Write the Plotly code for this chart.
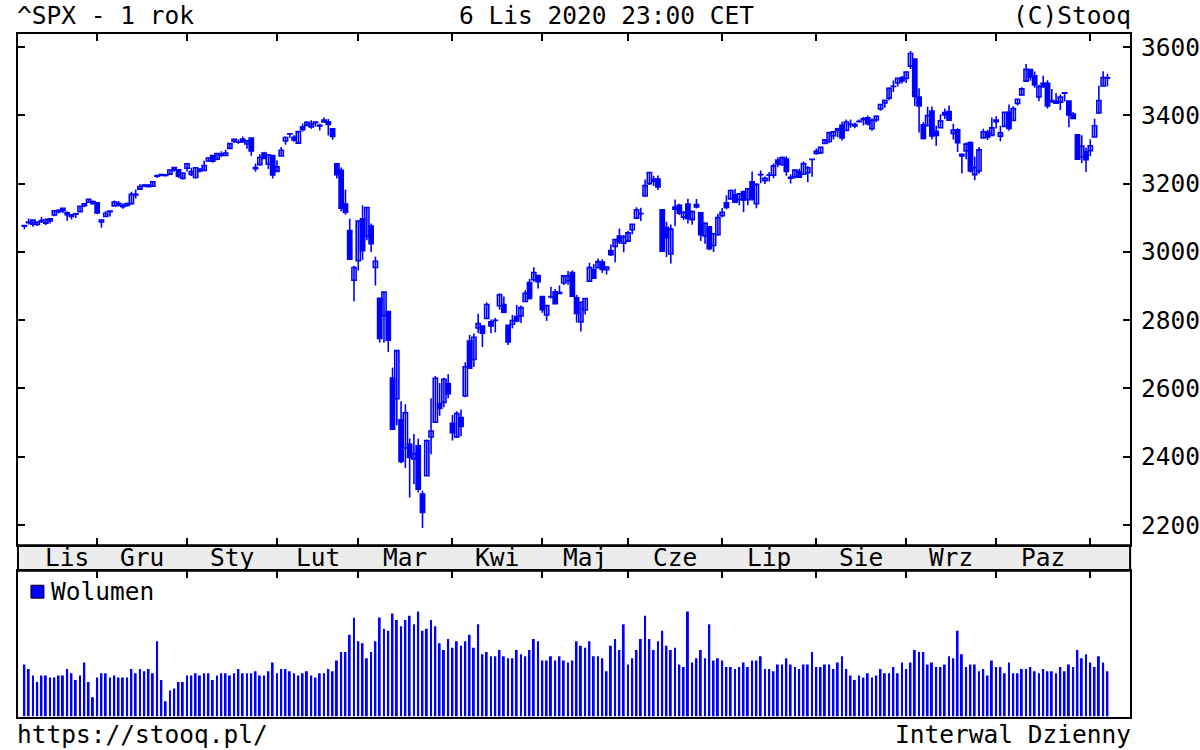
import pandas as pd
import plotly.graph_objects as go

# ---------------- data ----------------
holidays = ["2019-11-28", "2019-12-25", "2020-01-01", "2020-01-20", "2020-02-17",
            "2020-04-10", "2020-05-25", "2020-07-03", "2020-09-07"]
dates = pd.bdate_range("2019-11-06", "2020-11-06", freq="C", holidays=holidays)

open_ = [
    # Nov 2019
    3075.1, 3087.0, 3081.3, 3080.3, 3089.3, 3084.2, 3090.8, 3107.9, 3117.9, 3127.5, 3114.7, 3108.5, 3111.4, 3117.4, 3134.9, 3145.5, 3147.2,
    # Dec
    3143.9, 3087.4, 3103.5, 3119.2, 3134.6, 3141.9, 3135.4, 3135.8, 3141.2, 3166.7, 3183.6, 3195.4, 3195.2, 3192.3, 3223.3, 3226.1, 3225.5, 3227.2, 3247.2, 3240.1, 3215.2,
    # Jan 2020
    3244.7, 3226.4, 3217.6, 3241.9, 3238.6, 3266.0, 3281.8, 3271.1, 3285.4, 3282.3, 3303.0, 3323.7, 3321.0, 3330.0, 3315.8, 3333.1, 3247.2, 3255.4, 3289.5, 3256.5, 3282.3,
    # Feb
    3235.7, 3280.6, 3324.9, 3344.9, 3335.5, 3318.3, 3365.9, 3370.5, 3365.9, 3378.1, 3369.0, 3380.4, 3380.5, 3360.5, 3257.6, 3238.9, 3139.9, 3062.5, 2916.9,
    # Mar
    2974.3, 3096.5, 3045.8, 3075.7, 2954.2, 2863.9, 2813.5, 2825.6, 2630.9, 2570.0, 2508.6, 2425.7, 2436.5, 2393.5, 2431.9, 2290.7, 2344.4, 2457.8, 2501.3, 2555.9, 2559.0, 2614.7,
    # Apr
    2498.1, 2458.5, 2514.9, 2578.3, 2738.7, 2685.0, 2777.0, 2782.5, 2805.1, 2795.6, 2799.3, 2842.4, 2845.6, 2784.8, 2787.9, 2810.4, 2812.6, 2854.7, 2910.0, 2918.5, 2930.9,
    # May
    2869.1, 2815.0, 2868.9, 2883.1, 2878.3, 2908.8, 2915.5, 2939.5, 2865.9, 2794.5, 2830.0, 2913.9, 2948.6, 2953.6, 2970.0, 2948.1, 3004.1, 3015.7, 3046.6, 3025.2,
    # Jun
    3031.4, 3064.8, 3098.9, 3111.6, 3163.8, 3199.9, 3213.3, 3213.4, 3123.5, 3071.0, 2993.8, 3131.0, 3136.1, 3101.6, 3140.3, 3094.4, 3138.7, 3114.4, 3046.6, 3073.2, 3018.6, 3050.2,
    # Jul
    3105.9, 3143.6, 3155.3, 3166.4, 3153.1, 3176.2, 3152.5, 3205.1, 3141.1, 3226.0, 3208.4, 3224.2, 3224.3, 3268.5, 3254.9, 3271.6, 3218.6, 3219.8, 3234.3, 3227.2, 3231.8, 3270.5,
    # Aug
    3288.3, 3289.9, 3317.4, 3323.2, 3340.1, 3356.0, 3370.3, 3355.5, 3373.0, 3368.7, 3380.9, 3387.0, 3392.5, 3360.5, 3386.0, 3418.1, 3436.0, 3450.0, 3485.1, 3494.7, 3509.7,
    # Sep
    3507.4, 3543.8, 3564.7, 3453.6, 3371.9, 3369.8, 3412.6, 3352.7, 3363.6, 3407.7, 3411.2, 3346.9, 3357.4, 3285.6, 3295.8, 3320.1, 3226.1, 3236.7, 3333.9, 3350.9, 3341.2,
    # Oct
    3385.9, 3338.9, 3367.3, 3408.7, 3384.6, 3434.3, 3459.7, 3500.0, 3534.0, 3515.5, 3453.7, 3493.5, 3493.7, 3439.4, 3439.9, 3438.5, 3464.9, 3441.4, 3403.2, 3342.5, 3277.2, 3293.6,
    # Nov 2020
    3296.2, 3336.3, 3406.5, 3485.7, 3508.3,
]
high = [
    3078.3, 3097.8, 3093.1, 3088.3, 3102.6, 3098.1, 3098.2, 3120.5, 3124.2, 3127.6, 3119.0, 3110.1, 3112.9, 3133.8, 3142.7, 3154.3, 3150.3,
    3144.3, 3095.0, 3119.4, 3119.5, 3150.6, 3148.9, 3142.1, 3144.0, 3176.3, 3182.7, 3197.7, 3198.2, 3198.5, 3205.5, 3225.7, 3227.8, 3226.4, 3240.1, 3247.9, 3240.9, 3231.7,
    3258.1, 3246.2, 3246.8, 3244.9, 3267.1, 3275.6, 3283.0, 3288.1, 3294.3, 3298.7, 3317.1, 3329.9, 3329.8, 3337.8, 3326.9, 3333.2, 3258.9, 3285.8, 3293.5, 3285.9, 3282.3,
    3268.4, 3306.9, 3337.6, 3348.0, 3341.4, 3352.3, 3375.6, 3381.5, 3385.1, 3380.7, 3375.0, 3393.5, 3389.2, 3360.8, 3259.8, 3247.0, 3182.5, 3097.1, 2959.7,
    3091.0, 3136.7, 3131.0, 3083.0, 2985.9, 2863.9, 2882.6, 2825.6, 2661.0, 2711.3, 2563.0, 2553.9, 2453.6, 2467.0, 2453.0, 2300.7, 2449.7, 2571.4, 2637.0, 2615.9, 2631.8, 2641.4,
    2522.8, 2533.2, 2538.2, 2676.9, 2756.9, 2760.8, 2818.6, 2782.5, 2851.9, 2801.9, 2806.5, 2879.2, 2869.0, 2785.5, 2815.1, 2844.9, 2842.7, 2887.7, 2921.2, 2954.9, 2930.9,
    2869.1, 2844.2, 2898.2, 2891.1, 2901.9, 2932.2, 2944.3, 2945.8, 2874.1, 2852.8, 2865.0, 2968.1, 2964.2, 2980.3, 2978.5, 2956.8, 3021.7, 3036.3, 3068.7, 3049.2,
    3062.2, 3081.1, 3130.9, 3128.9, 3211.7, 3233.1, 3222.7, 3223.3, 3123.5, 3088.4, 3079.8, 3153.5, 3141.2, 3120.0, 3155.5, 3120.9, 3154.9, 3115.0, 3086.3, 3073.7, 3053.9, 3111.5,
    3128.4, 3165.8, 3182.6, 3184.2, 3171.8, 3179.8, 3186.8, 3235.3, 3201.0, 3238.3, 3220.4, 3233.5, 3258.6, 3277.3, 3279.3, 3280.0, 3227.3, 3241.4, 3243.7, 3264.7, 3250.9, 3272.2,
    3302.7, 3306.8, 3330.8, 3351.0, 3352.5, 3363.3, 3381.0, 3387.9, 3387.2, 3378.5, 3387.6, 3395.1, 3399.5, 3390.8, 3400.0, 3432.1, 3444.2, 3481.1, 3501.4, 3509.2, 3514.8,
    3528.0, 3588.1, 3564.9, 3479.2, 3380.0, 3424.8, 3425.6, 3369.0, 3402.9, 3419.5, 3428.9, 3375.2, 3362.3, 3285.6, 3320.3, 3323.4, 3278.7, 3306.9, 3360.7, 3357.9, 3393.6,
    3397.2, 3369.1, 3409.6, 3431.6, 3426.3, 3447.3, 3482.3, 3549.9, 3534.0, 3527.9, 3489.1, 3515.8, 3502.4, 3476.9, 3464.9, 3460.5, 3466.5, 3441.4, 3409.5, 3342.5, 3341.1, 3304.9,
    3330.1, 3389.5, 3486.3, 3529.1, 3521.6,
]
low = [
    3065.9, 3080.2, 3073.6, 3075.8, 3084.7, 3078.8, 3083.3, 3104.6, 3112.1, 3113.5, 3091.4, 3094.6, 3099.3, 3117.4, 3131.0, 3143.4, 3139.3,
    3110.8, 3070.3, 3102.5, 3103.8, 3134.6, 3135.5, 3126.1, 3133.2, 3138.5, 3156.5, 3183.6, 3191.0, 3191.1, 3192.3, 3216.0, 3222.3, 3220.5, 3227.2, 3234.4, 3216.6, 3212.0,
    3235.5, 3222.3, 3214.6, 3232.4, 3236.7, 3263.7, 3260.9, 3268.4, 3277.2, 3280.7, 3302.8, 3318.9, 3316.6, 3320.0, 3301.9, 3281.5, 3234.5, 3253.2, 3271.9, 3242.8, 3214.7,
    3235.7, 3280.6, 3313.8, 3334.4, 3322.1, 3317.8, 3352.7, 3369.7, 3360.5, 3366.2, 3355.6, 3378.8, 3341.0, 3328.5, 3214.7, 3118.8, 3109.0, 2977.4, 2855.8,
    2945.2, 2976.6, 3034.4, 2999.8, 2901.5, 2734.4, 2734.0, 2707.2, 2478.9, 2492.4, 2380.9, 2367.0, 2280.5, 2319.8, 2295.6, 2191.9, 2344.4, 2407.5, 2500.7, 2520.0, 2545.3, 2571.2,
    2447.5, 2455.8, 2460.0, 2574.6, 2657.7, 2663.3, 2762.4, 2721.2, 2805.1, 2761.5, 2764.3, 2830.9, 2820.4, 2727.1, 2776.0, 2794.3, 2791.8, 2852.9, 2860.7, 2912.2, 2892.5,
    2821.6, 2797.9, 2863.6, 2847.7, 2876.5, 2902.9, 2903.4, 2869.6, 2793.2, 2766.6, 2816.8, 2913.9, 2922.4, 2953.6, 2938.6, 2933.6, 2988.2, 2969.8, 3023.4, 2998.6,
    3031.4, 3051.6, 3098.9, 3090.4, 3163.8, 3196.0, 3193.1, 3181.5, 2999.5, 2984.5, 2965.7, 3076.1, 3108.0, 3093.5, 3083.1, 3079.4, 3127.1, 3032.1, 3024.0, 3004.6, 2999.7, 3047.8,
    3101.2, 3124.5, 3155.3, 3142.9, 3136.5, 3115.7, 3136.2, 3149.4, 3127.7, 3200.8, 3198.6, 3205.7, 3215.2, 3247.8, 3253.1, 3222.7, 3200.1, 3214.3, 3216.2, 3227.2, 3204.1, 3220.3,
    3284.5, 3286.4, 3317.4, 3318.1, 3328.7, 3335.4, 3326.4, 3355.5, 3363.4, 3361.6, 3379.2, 3370.2, 3369.7, 3354.7, 3379.3, 3413.1, 3421.9, 3444.2, 3468.4, 3484.3, 3493.3,
    3494.6, 3535.2, 3427.4, 3349.6, 3329.3, 3366.8, 3329.3, 3310.5, 3363.6, 3389.3, 3384.5, 3328.8, 3292.4, 3229.1, 3271.0, 3232.6, 3209.5, 3228.4, 3332.9, 3327.5, 3340.5,
    3361.4, 3323.7, 3367.3, 3354.5, 3384.6, 3428.2, 3458.1, 3499.6, 3500.9, 3480.6, 3440.9, 3480.5, 3419.9, 3435.7, 3433.1, 3415.3, 3440.5, 3364.9, 3388.7, 3268.9, 3259.8, 3233.9,
    3279.7, 3336.3, 3405.2, 3485.7, 3484.3,
]
close = [
    3076.8, 3085.2, 3093.1, 3087.0, 3091.8, 3094.0, 3096.6, 3120.5, 3122.0, 3120.2, 3108.5, 3103.5, 3110.3, 3133.6, 3140.5, 3153.6, 3141.0,
    3113.9, 3093.2, 3112.8, 3117.4, 3145.9, 3136.0, 3132.5, 3141.6, 3168.6, 3168.8, 3191.5, 3192.5, 3191.1, 3205.4, 3221.2, 3224.0, 3223.4, 3239.9, 3240.0, 3221.3, 3230.8,
    3257.9, 3234.9, 3246.3, 3237.2, 3253.1, 3274.7, 3265.4, 3288.1, 3283.2, 3289.3, 3316.8, 3329.6, 3320.8, 3321.8, 3325.5, 3295.5, 3243.6, 3276.2, 3273.4, 3283.7, 3225.5,
    3248.9, 3297.6, 3334.7, 3345.8, 3327.7, 3352.1, 3357.8, 3379.5, 3373.9, 3380.2, 3370.3, 3386.2, 3373.2, 3337.8, 3225.9, 3128.2, 3116.4, 2978.8, 2954.2,
    3090.2, 3003.4, 3130.1, 3023.9, 2972.4, 2746.6, 2882.2, 2741.4, 2480.6, 2711.0, 2386.1, 2529.2, 2398.1, 2409.4, 2304.9, 2237.4, 2447.3, 2475.6, 2630.1, 2541.5, 2626.7, 2584.6,
    2470.5, 2526.9, 2488.7, 2663.7, 2659.4, 2750.0, 2789.8, 2761.6, 2846.1, 2783.4, 2799.6, 2874.6, 2823.2, 2736.6, 2799.3, 2797.8, 2836.7, 2878.5, 2863.4, 2939.5, 2912.4,
    2830.7, 2842.7, 2868.4, 2848.4, 2881.2, 2929.8, 2930.3, 2870.1, 2820.0, 2852.5, 2863.7, 2953.9, 2922.9, 2971.6, 2948.5, 2955.5, 2991.8, 3036.1, 3029.7, 3044.3,
    3055.7, 3080.8, 3122.9, 3112.4, 3193.9, 3232.4, 3207.2, 3190.1, 3002.1, 3041.3, 3066.6, 3124.7, 3113.5, 3115.3, 3097.7, 3117.9, 3131.3, 3050.3, 3083.8, 3009.1, 3053.2, 3100.3,
    3115.9, 3130.0, 3179.7, 3145.3, 3169.9, 3152.1, 3185.0, 3155.2, 3197.5, 3226.6, 3215.6, 3224.7, 3251.8, 3257.3, 3276.0, 3235.7, 3215.6, 3239.4, 3218.4, 3258.4, 3246.2, 3271.1,
    3294.6, 3306.5, 3327.8, 3349.2, 3351.3, 3360.5, 3333.7, 3380.4, 3373.4, 3372.9, 3382.0, 3389.8, 3374.9, 3385.5, 3397.2, 3431.3, 3443.6, 3478.7, 3484.6, 3508.0, 3500.3,
    3526.7, 3580.8, 3455.1, 3427.0, 3331.8, 3399.0, 3339.2, 3341.0, 3383.5, 3401.2, 3385.5, 3357.0, 3319.5, 3281.1, 3315.6, 3236.9, 3246.6, 3298.5, 3351.6, 3335.5, 3363.0,
    3380.8, 3348.4, 3408.6, 3361.0, 3419.4, 3446.8, 3477.1, 3534.2, 3511.9, 3488.7, 3483.3, 3483.8, 3426.9, 3443.1, 3435.6, 3453.5, 3465.4, 3401.0, 3390.7, 3271.0, 3310.1, 3270.0,
    3310.2, 3369.2, 3443.4, 3510.5, 3509.4,
]
# volume, millions of shares
volume = [
    4420, 4055, 3485, 2950, 3485, 3485, 3315, 3315, 3485, 3485, 4055, 3680, 3120, 3485, 4590, 2950, 1640,
    3315, 3680, 3680, 3315, 3485, 3315, 3315, 3315, 4055, 3680, 4055, 3850, 4055, 3680, 6400, 3120, 1300, 2210, 2380, 2950, 2950,
    3485, 3485, 3680, 3485, 3680, 3680, 3120, 3485, 3680, 3680, 3485, 3680, 4055, 3680, 3680, 3680, 3850, 3485, 3485, 3850, 4590,
    3680, 4055, 4055, 3850, 3680, 3485, 3680, 3850, 3485, 3315, 3680, 3680, 4055, 3850, 4760, 5500, 5500, 6970, 8415,
    6400, 6230, 4955, 5500, 6400, 8440, 7480, 7310, 8780, 8220, 7675, 8220, 8585, 7845, 8950, 7310, 7480, 8220, 7675, 6230, 5670, 6605,
    5865, 6400, 6035, 6400, 6970, 5865, 7845, 5295, 5500, 5125, 5125, 5670, 5125, 4955, 4955, 5670, 5295, 5125, 5670, 6605, 6400,
    4760, 4760, 5125, 4760, 5125, 4760, 4590, 4760, 6400, 6035, 5865, 6400, 5125, 5125, 4955, 3850, 6035, 6605, 5670, 7845,
    4420, 4955, 5670, 6605, 8585, 6605, 5670, 6400, 7310, 6035, 5670, 5865, 4420, 4225, 8950, 4590, 4955, 5670, 4955, 7845, 4760, 4955,
    4760, 4225, 4225, 4055, 4225, 4590, 4225, 4760, 4760, 5125, 4055, 4055, 3850, 4420, 4420, 4955, 4420, 4225, 4055, 4420, 4420, 5500,
    4225, 4225, 4420, 4420, 4055, 4590, 5125, 4055, 3485, 3120, 3485, 3315, 3680, 3315, 3485, 4055, 3680, 3680, 4225, 3680, 4590,
    4055, 4590, 5670, 5500, 5500, 4420, 4590, 4225, 4225, 4420, 5125, 4955, 7310, 5295, 4225, 4420, 4420, 3850, 4055, 3485, 4760,
    4225, 4225, 3680, 4590, 3680, 3680, 4055, 4055, 4225, 3850, 3680, 4055, 3850, 3850, 3680, 4225, 3850, 4420, 4225, 5670, 4955, 5295,
    4590, 4225, 5125, 4590, 3850,
]
month_names = ["Sty", "Lut", "Mar", "Kwi", "Maj", "Cze", "Lip", "Sie", "Wrz", "Paz", "Lis", "Gru"]
price_ticks = [2200, 2400, 2600, 2800, 3000, 3200, 3400, 3600]

n = len(close)
idx = list(range(n))

# month boundaries (index of first trading day of each month)
months = [d.month for d in dates[:n]]
month_starts = [i for i in range(1, n) if months[i] != months[i - 1]]
seg_starts = [0] + month_starts
seg_ends = month_starts + [n]

# ---------------- styling ----------------
FONT = "DejaVu Sans Mono"
FS = 24.5
BLUE = "#0000ff"
W, H = 1200, 750
xl, xr = 18 / W, 1132 / W
main_dom = [1 - 545 / H, 1 - 33 / H]
vol_dom = [1 - 716.5 / H, 1 - 570.5 / H]
XR = [-1.5, 258.3]

fig = go.Figure()

# wicks (high-low lines), drawn under the bodies
wx, wy = [], []
for i in idx:
    wx += [i, i, None]
    wy += [low[i], high[i], None]
fig.add_trace(go.Scatter(x=wx, y=wy, mode="lines", line=dict(color=BLUE, width=1.6),
                         hoverinfo="skip", showlegend=False, xaxis="x", yaxis="y"))

up = [i for i in idx if close[i] >= open_[i]]
dn = [i for i in idx if close[i] < open_[i]]
fig.add_trace(go.Bar(
    x=up, base=[open_[i] for i in up], y=[close[i] - open_[i] for i in up],
    width=0.98, marker=dict(color="white", line=dict(color=BLUE, width=1.6)),
    hoverinfo="skip", showlegend=False, xaxis="x", yaxis="y"))
fig.add_trace(go.Bar(
    x=dn, base=[close[i] for i in dn], y=[open_[i] - close[i] for i in dn],
    width=0.98, marker=dict(color=BLUE, line=dict(color=BLUE, width=1.6)),
    hoverinfo="skip", showlegend=False, xaxis="x", yaxis="y"))

fig.add_trace(go.Bar(
    x=idx, y=volume, width=0.45, marker=dict(color=BLUE, line=dict(width=0)),
    xaxis="x2", yaxis="y2", hoverinfo="skip", showlegend=False,
))

axis_common = dict(showline=True, linecolor="black", linewidth=2, showgrid=False,
                   zeroline=False, tickcolor="black", tickwidth=2, ticklen=7)

fig.update_layout(
    width=W, height=H, margin=dict(l=0, r=0, t=0, b=0),
    paper_bgcolor="white", plot_bgcolor="white",
    font=dict(family=FONT, size=FS, color="black"),
    barmode="overlay",
    xaxis=dict(domain=[xl, xr], range=XR, anchor="y", tickvals=month_starts,
               showticklabels=False, ticks="inside", mirror="ticks", **axis_common),
    yaxis=dict(domain=main_dom, range=[2141, 3638], anchor="x", side="right",
               tickvals=price_ticks, ticks="inside", mirror="ticks",
               tickfont=dict(family=FONT, size=FS, color="black"),
               ticklabelstandoff=4, **axis_common),
    xaxis2=dict(domain=[xl, xr], range=XR, anchor="y2", side="top", tickvals=month_starts,
                showticklabels=False, ticks="inside", mirror=True, **axis_common),
    yaxis2=dict(domain=vol_dom, range=[0, 12410], anchor="x2", showticklabels=False,
                ticks="", mirror=True, **axis_common),
)

# month band
fig.add_shape(type="rect", xref="paper", yref="paper", x0=xl, x1=xr,
              y0=vol_dom[1], y1=main_dom[0], fillcolor="#ececec",
              line=dict(color="black", width=2), layer="below")

# month labels
band_y = 1 - 557.5 / H
for k, (s, e) in enumerate(zip(seg_starts, seg_ends)):
    if e - s < 10:
        continue
    if k == 0:
        xpos = (s + e) / 2 + 1.5
    else:
        xpos = (s + e) / 2
    fig.add_annotation(x=xpos, y=band_y, xref="x", yref="paper",
                       text=month_names[months[s] - 1], showarrow=False,
                       xanchor="center", yanchor="middle",
                       font=dict(family=FONT, size=FS, color="black"))

def txt(t, x, y, anchor):
    fig.add_annotation(x=x / W, y=1 - y / H, xref="paper", yref="paper", text=t,
                       showarrow=False, xanchor=anchor, yanchor="middle",
                       font=dict(family=FONT, size=FS, color="black"))

txt("^SPX - 1 rok", 15, 15, "left")
txt("6 Lis 2020 23:00 CET", 607.5, 15, "center")
txt("(C)Stooq", 1135, 15, "right")
txt("https://stooq.pl/", 15, 734, "left")
txt("Interwal Dzienny", 1135, 734, "right")
txt("Wolumen", 49, 591, "left")

# legend square for volume
fig.add_shape(type="rect", xref="paper", yref="paper", x0=31 / W, x1=44 / W,
              y0=1 - 598 / H, y1=1 - 585 / H, fillcolor=BLUE,
              line=dict(color="black", width=1))

fig.write_html("out.html", config={"displayModeBar": False},
               post_script="document.body.style.margin='0px';")
